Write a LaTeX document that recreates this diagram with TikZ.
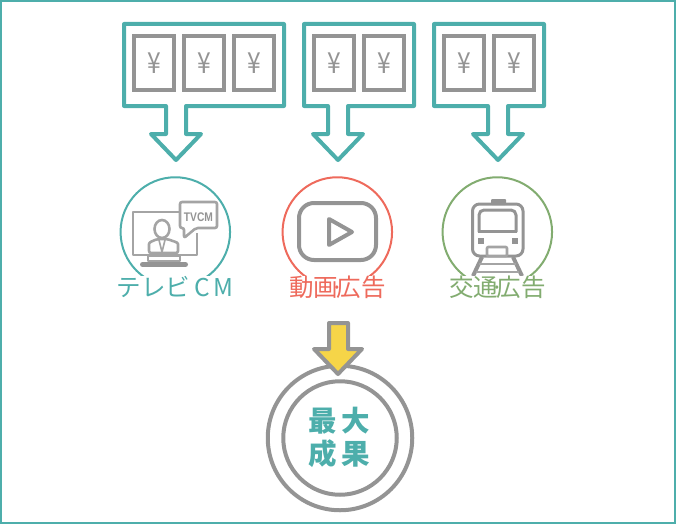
\documentclass[tikz,border=0pt]{standalone}
\usepackage{fontspec}
\usepackage{xcolor}
\newfontfamily\cjk{Noto Sans CJK JP}
\newfontfamily\latinbold{Liberation Sans}
\definecolor{tealc}{HTML}{4DAEAB}
\definecolor{grayc}{HTML}{949494}
\definecolor{redc}{HTML}{EE6A5C}
\definecolor{greenc}{HTML}{82AC70}
\definecolor{yellowc}{HTML}{F6D548}
\tikzset{
  moneybox/.style={draw=tealc,line width=4pt,miter limit=10,line join=round},
  yenbox/.style={draw=grayc,line width=4pt,minimum width=40pt,minimum height=54pt,inner sep=0pt},
  yenmark/.style={text=grayc,inner sep=0pt,xscale=0.85,font=\cjk\fontsize{29}{29}\selectfont},
  mediaring/.style={circle,line width=2pt,minimum size=109.5pt,inner sep=0pt},
  medialabel/.style={fill=white,inner sep=0pt,font=\cjk\fontsize{24.5}{25}\selectfont},
  iconline/.style={draw=grayc,line width=3pt,line join=round},
  thinicon/.style={draw=grayc!85,line width=2.6pt,line join=round}
}
\begin{document}
\begin{tikzpicture}[x=1pt,y=-1pt]
\useasboundingbox (0,0) rectangle (676,524);
\node [draw=tealc,line width=2pt,minimum width=674pt,minimum height=522pt,inner sep=0pt] (frame) at (338,262) {};
% money
\draw [moneybox] (124,24) -- (284,24) -- (284,106) -- (186,106) -- (186,134) -- (201,134) -- (176,160) -- (151,134) -- (166,134) -- (166,106) -- (124,106) -- cycle;
\draw [moneybox] (304,24) -- (414,24) -- (414,106) -- (348,106) -- (348,134) -- (363,134) -- (338,160) -- (313,134) -- (328,134) -- (328,106) -- (304,106) -- cycle;
\draw [moneybox] (434,24) -- (544,24) -- (544,106) -- (508,106) -- (508,134) -- (523,134) -- (498,160) -- (473,134) -- (488,134) -- (488,106) -- (434,106) -- cycle;
\node [yenbox] (tvA) at (154,63) {};
\node [yenbox] (tvB) at (204,63) {};
\node [yenbox] (tvC) at (254,63) {};
\node [yenbox] (webA) at (334,63) {};
\node [yenbox] (webB) at (384,63) {};
\node [yenbox] (railA) at (464,63) {};
\node [yenbox] (railB) at (514,63) {};
\node [yenmark] (yenA) at (tvA) {¥};
\node [yenmark] (yenB) at (tvB) {¥};
\node [yenmark] (yenC) at (tvC) {¥};
\node [yenmark] (yenD) at (webA) {¥};
\node [yenmark] (yenE) at (webB) {¥};
\node [yenmark] (yenF) at (railA) {¥};
\node [yenmark] (yenG) at (railB) {¥};
% circles
\node [mediaring,draw=tealc] (tvRing) at (175.3,232) {};
\node [mediaring,draw=redc] (webRing) at (337.3,232) {};
\node [mediaring,draw=greenc] (railRing) at (497.3,232) {};
% tv icon
\draw [thinicon] (179,212) -- (133,212) -- (133,255) -- (197,255) -- (197,233);
\draw [thinicon,rounded corners=2pt] (149,253) -- (149,246) .. controls (149,242) and (153,241) .. (157,239) -- (168,239) .. controls (172,241) and (178,242) .. (178,246) -- (178,253) -- cycle;
\draw [thinicon] (162,229) ellipse (7.5pt and 9pt);
\draw [thinicon,line width=1.6pt] (159,240) -- (162,252) -- (165,240);
\draw [thinicon,line width=2pt] (148,256) rectangle (180,261);
\draw [draw=grayc,line width=5pt,line cap=round] (142.5,264.5) -- (185.5,264.5);
\draw [thinicon,fill=white,rounded corners=2pt] (180,202) -- (217,202) -- (217,228) -- (196,228) -- (184,238) -- (184,228) -- (180,228) -- cycle;
\node [text=grayc,inner sep=0pt,xscale=0.82,font=\latinbold\bfseries\fontsize{12.5}{12.5}\selectfont] (tvText) at (198.5,217) {TVCM};
% play icon
\draw [iconline,line width=4pt,rounded corners=15pt] (299,203) rectangle (376,260);
\draw [iconline,line width=4pt] (329,219) -- (329,245) -- (352,232) -- cycle;
% train icon
\fill [grayc,rounded corners=1pt] (491,199) rectangle (506,205);
\draw [iconline,rounded corners=7pt] (472.5,204) rectangle (523,256);
\draw [iconline,rounded corners=5pt] (479,232) -- (479,210) -- (516,210) -- (516,232);
\draw [iconline] (478,231) -- (517,231);
\fill [grayc] (478,238) rectangle (484,244);
\fill [grayc] (512,238) rectangle (518,244);
\draw [thinicon,fill=white,rounded corners=1pt] (487,247) rectangle (507,256);
\draw [iconline,line width=4pt] (482,257) -- (473,276);
\draw [iconline,line width=4pt] (513,257) -- (522,276);
\draw [thinicon] (479,264) -- (516,264);
\draw [thinicon] (476,272) -- (519,272);
% labels
\node [medialabel,text=tealc] (tvLabel) at (175,287) {テレビ\,C\kern3pt M};
\node [medialabel,text=redc] (webLabel) at (337.5,287) {動画\kern-7.4pt·\kern-7.4pt 広告};
\node [medialabel,text=greenc] (railLabel) at (497.5,287) {交通\kern-7.4pt·\kern-7.4pt 広告};
% result
\node [circle,draw=grayc,line width=4pt,minimum size=144.5pt,inner sep=0pt] (outerRing) at (340,438) {};
\node [circle,draw=grayc,line width=4pt,minimum size=113.5pt,inner sep=0pt] (innerRing) at (340,438) {};
\draw [draw=grayc,fill=yellowc,line width=4pt,line join=round] (329,323) -- (348,323) -- (348,349) -- (362,349) -- (338,374) -- (314,349) -- (329,349) -- cycle;
\node [text=tealc,align=center,inner sep=0pt,font=\cjk\bfseries\fontsize{28.5}{33}\selectfont] (resultText) at (339.5,437) {最\kern4.5pt 大\\成\kern4.5pt 果};
\end{tikzpicture}
\end{document}
